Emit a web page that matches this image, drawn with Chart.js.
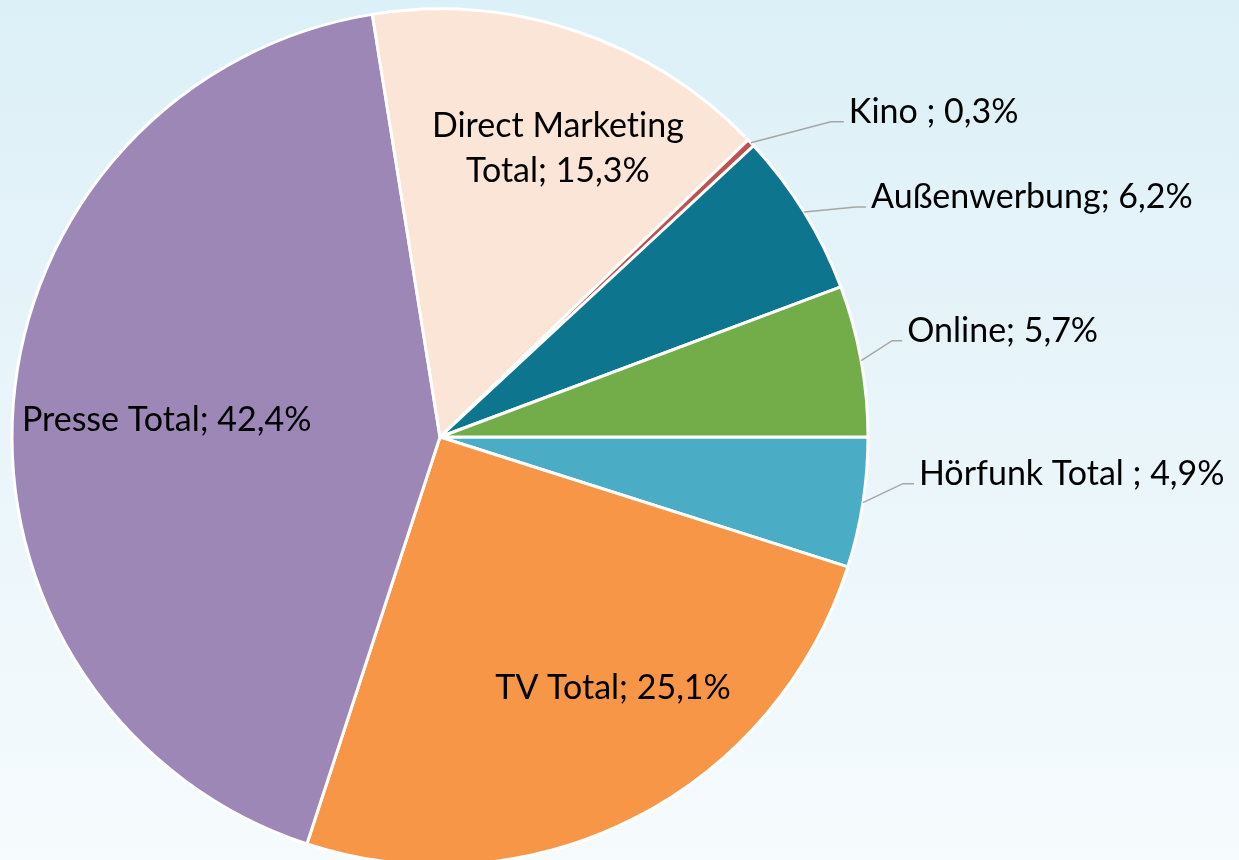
<!DOCTYPE html>
<html lang="de">
<head>
    <meta charset="UTF-8">
    <title>Werbemarkt Anteile</title>
    <style>
        html, body { margin: 0; padding: 0; overflow: hidden; }
        body {
            width: 1239px;
            height: 860px;
            background: linear-gradient(to bottom, #dcf0f7 0%, #e9f5fa 50%, #f6fbfd 100%);
        }
        canvas { display: block; }
    </style>
</head>
<body>
    <canvas id="pieChart" width="1239" height="860"></canvas>

    <script src="https://cdn.jsdelivr.net/npm/chart.js"></script>
    <script>
        // Data, clockwise from 3 o'clock
        const categories = ['Hörfunk Total ', 'TV Total', 'Presse Total', 'Direct Marketing\nTotal', 'Kino ', 'Außenwerbung', 'Online'];
        const shares = [4.9, 25.1, 42.4, 15.3, 0.3, 6.2, 5.7];
        const sliceColors = ['#4bacc6', '#f79646', '#9c87b6', '#fbe5d6', '#c0504d', '#0e758f', '#72ad4a'];

        // label placement: inside (radius fraction, angle shift in deg) or outside (elbow offset)
        const labelPlacement = [
            { outside: true, dx: 40, dy: -19, run: 11 },
            { outside: false, r: 0.71, shift: -7.6 },
            { outside: false, r: 0.64, shift: -0.7 },
            { outside: false, r: 0.73, shift: 3.7 },
            { outside: true, dx: 80, dy: -21, run: 13 },
            { outside: true, dx: 52, dy: -5, run: 10 },
            { outside: true, dx: 31, dy: -20, run: 10 }
        ];

        const FONT_SIZE = 34;
        const FONT = FONT_SIZE + 'px Lato, "Open Sans", sans-serif';
        const CAP = FONT_SIZE * 0.7;
        const LINE_H = 45;

        function fmt(v) {
            return v.toFixed(1).replace('.', ',') + '%';
        }

        const labelPlugin = {
            id: 'sliceLabels',
            afterDatasetsDraw(chart) {
                const ctx = chart.ctx;
                const meta = chart.getDatasetMeta(0);
                ctx.save();
                ctx.font = FONT;
                if ('textRendering' in ctx) ctx.textRendering = 'optimizeSpeed'; // no "ti" ligature
                ctx.fillStyle = '#000';
                meta.data.forEach((arc, i) => {
                    const p = arc.getProps(['x', 'y', 'startAngle', 'endAngle', 'outerRadius'], true);
                    const mid = (p.startAngle + p.endAngle) / 2;
                    const lines = (categories[i] + '; ' + fmt(shares[i])).split('\n');
                    const cfg = labelPlacement[i];
                    if (cfg.outside) {
                        const ex = p.x + Math.cos(mid) * p.outerRadius;
                        const ey = p.y + Math.sin(mid) * p.outerRadius;
                        const bx = ex + cfg.dx;
                        const by = ey + cfg.dy;
                        ctx.strokeStyle = '#a6a6a6';
                        ctx.lineWidth = 1.5;
                        ctx.beginPath();
                        ctx.moveTo(ex, ey);
                        ctx.lineTo(bx, by);
                        ctx.lineTo(bx + cfg.run, by);
                        ctx.stroke();
                        ctx.textAlign = 'left';
                        ctx.textBaseline = 'alphabetic';
                        ctx.fillText(lines[0], bx + cfg.run + 5, by + 1);
                    } else {
                        const a = mid + cfg.shift * Math.PI / 180;
                        const cx = p.x + Math.cos(a) * p.outerRadius * cfg.r;
                        const cy = p.y + Math.sin(a) * p.outerRadius * cfg.r;
                        ctx.textAlign = 'center';
                        ctx.textBaseline = 'alphabetic';
                        const top = cy - (lines.length - 1) * LINE_H / 2;
                        lines.forEach((ln, k) => {
                            ctx.fillText(ln, cx, top + k * LINE_H + CAP / 2);
                        });
                    }
                });
                ctx.restore();
            }
        };

        new Chart(document.getElementById('pieChart'), {
            type: 'pie',
            data: {
                labels: categories,
                datasets: [{
                    data: shares,
                    backgroundColor: sliceColors,
                    borderColor: '#ffffff',
                    borderWidth: 3,
                    hoverOffset: 0,
                    radius: 428
                }]
            },
            options: {
                responsive: false,
                animation: false,
                rotation: 90,
                layout: { padding: { left: 0, right: 359, top: 14, bottom: 0 } },
                plugins: {
                    legend: { display: false },
                    tooltip: { enabled: false }
                }
            },
            plugins: [labelPlugin]
        });
    </script>
</body>
</html>
